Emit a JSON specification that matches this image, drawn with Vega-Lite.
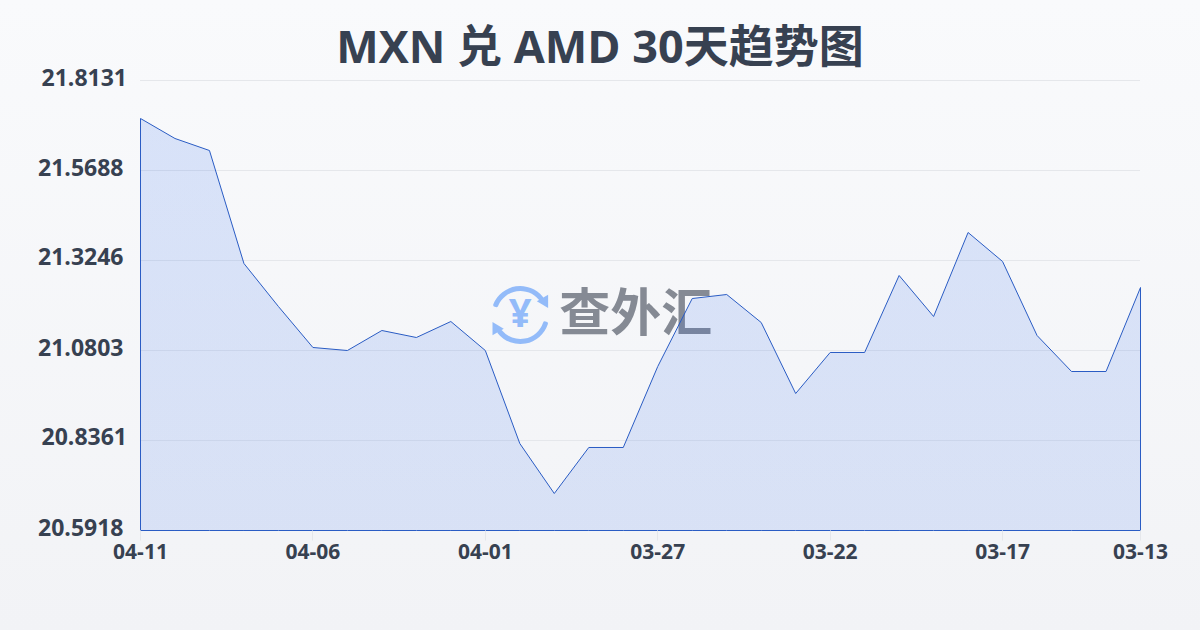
{
"$schema":"https://vega.github.io/schema/vega-lite/v6.json",
"width":1000,"height":450,
"autosize":{"type":"none"},
"padding":{"left":140,"top":80,"right":60,"bottom":100},
"background":"#f6f7f9",
"config":{"view":{"stroke":null}},
"data":{"values":[
{"date":"2025-04-11","rate":21.71},{"date":"2025-04-10","rate":21.6557},{"date":"2025-04-09","rate":21.6231},{"date":"2025-04-08","rate":21.3164},{"date":"2025-04-07","rate":21.1997},{"date":"2025-04-06","rate":21.0885},{"date":"2025-04-05","rate":21.0803},{"date":"2025-04-04","rate":21.1346},{"date":"2025-04-03","rate":21.1156},{"date":"2025-04-02","rate":21.159},{"date":"2025-04-01","rate":21.0803},{"date":"2025-03-31","rate":20.8279},{"date":"2025-03-30","rate":20.6922},{"date":"2025-03-29","rate":20.8171},{"date":"2025-03-28","rate":20.8171},{"date":"2025-03-27","rate":21.0369},{"date":"2025-03-26","rate":21.2214},{"date":"2025-03-25","rate":21.2323},{"date":"2025-03-24","rate":21.1563},{"date":"2025-03-23","rate":20.9636},{"date":"2025-03-22","rate":21.0749},{"date":"2025-03-21","rate":21.0749},{"date":"2025-03-20","rate":21.2839},{"date":"2025-03-19","rate":21.1726},{"date":"2025-03-18","rate":21.4006},{"date":"2025-03-17","rate":21.3219},{"date":"2025-03-16","rate":21.121},{"date":"2025-03-15","rate":21.0233},{"date":"2025-03-14","rate":21.0233},{"date":"2025-03-13","rate":21.2513}
]},
"encoding":{
"x":{"field":"date","type":"temporal","title":null,"scale":{"type":"utc","reverse":true,"nice":false,"domain":[{"year":2025,"month":3,"date":13,"utc":true},{"year":2025,"month":4,"date":11,"utc":true}]},
"axis":{"values":[{"year":2025,"month":4,"date":11,"utc":true},{"year":2025,"month":4,"date":6,"utc":true},{"year":2025,"month":4,"date":1,"utc":true},{"year":2025,"month":3,"date":27,"utc":true},{"year":2025,"month":3,"date":22,"utc":true},{"year":2025,"month":3,"date":17,"utc":true},{"year":2025,"month":3,"date":13,"utc":true}],"labelExpr":"utcFormat(datum.value,'%m-%d')","labelAngle":0,"labelOverlap":false,"labelFlush":false,"labelFont":"Open Sans","labelFontSize":21,"labelFontWeight":700,"labelColor":"#374151","labelPadding":1,"labelBaseline":"top","tickColor":"#e5e7eb","tickSize":10,"tickWidth":1,"domain":false,"grid":false,"zindex":1}},
"y":{"field":"rate","type":"quantitative","title":null,"scale":{"domain":[20.5918,21.8131],"nice":false,"zero":false},
"axis":{"values":[20.5918,20.8361,21.0803,21.3246,21.5688,21.8131],"format":".4f","labelFont":"Open Sans","labelFontSize":23,"labelFontWeight":700,"labelColor":"#374151","labelPadding":{"condition":{"test":"datum.value===21.8131||datum.value===20.8361","value":13.5},"value":17},"labelOffset":-2,"ticks":false,"domain":false,"grid":false,"zindex":1}}
},
"layer":[
{"data":{"values":[{"start":"2025-04-11","end":"2025-03-13","top":22.0302,"bottom":20.3204}]},
 "mark":{"type":"rect","xOffset":-140,"x2Offset":60,"clip":false,"fill":{"gradient":"linear","x1":0,"y1":0,"x2":0,"y2":1,"stops":[{"offset":0,"color":"#f9fafc"},{"offset":1,"color":"#f2f3f6"}]}},
 "encoding":{"x":{"field":"start","type":"temporal"},"x2":{"field":"end"},"y":{"field":"top","type":"quantitative"},"y2":{"field":"bottom"}}},
{"data":{"values":[{"start":"2025-04-11","end":"2025-03-13","rate":20.8361},{"start":"2025-04-11","end":"2025-03-13","rate":21.0803},{"start":"2025-04-11","end":"2025-03-13","rate":21.3246},{"start":"2025-04-11","end":"2025-03-13","rate":21.5688},{"start":"2025-04-11","end":"2025-03-13","rate":21.8131}]},
 "mark":{"type":"rule","color":"#e5e7eb","strokeWidth":1,"yOffset":0.5},
 "encoding":{"x":{"field":"start","type":"temporal"},"x2":{"field":"end"},"y":{"field":"rate","type":"quantitative"}}},
{"data":{"values":[{"name":"MXN 兑 AMD 30天趋势图","date":"2025-03-29","rate":21.8592}]},
 "mark":{"type":"text","font":"Open Sans, Noto Sans CJK SC","fontWeight":"bold","fontSize":45,"color":"#374151","align":"center","baseline":"alphabetic","xOffset":11.7},
 "encoding":{"text":{"field":"name"}}},
{"data":{"values":[{"name":"查外汇","date":"2025-03-29","rate":21.1753}]},
 "mark":{"type":"text","font":"Noto Sans CJK SC","fontWeight":"bold","fontSize":51,"color":"#858a94","align":"left","baseline":"middle","xOffset":-29,"yOffset":1},
 "encoding":{"text":{"field":"name"}}},
{"data":{"values":[{"name":"¥","date":"2025-03-31","rate":21.1753}]},
 "mark":{"type":"text","font":"Open Sans","fontWeight":"bold","fontSize":40,"color":"#93bbf9","align":"center","baseline":"middle","xOffset":1},
 "encoding":{"text":{"field":"name"}}},
{"data":{"values":[{"date":"2025-03-31","rate":21.1753}]},
 "mark":{"type":"arc","color":"#93bbf9","innerRadius":24,"outerRadius":29,"theta":-1.26,"theta2":0.96,"cornerRadius":2,"xOffset":1}},
{"data":{"values":[{"date":"2025-03-31","rate":21.1753}]},
 "mark":{"type":"arc","color":"#93bbf9","innerRadius":24,"outerRadius":29,"theta":1.82,"theta2":4.1,"cornerRadius":2,"xOffset":1}},
{"data":{"values":[{"date":"2025-03-31","rate":21.1753}]},
 "mark":{"type":"point","filled":true,"shape":"triangle-up","size":170,"opacity":1,"color":"#93bbf9","angle":150,"xOffset":26,"yOffset":-12}},
{"data":{"values":[{"date":"2025-03-31","rate":21.1753}]},
 "mark":{"type":"point","filled":true,"shape":"triangle-up","size":170,"opacity":1,"color":"#93bbf9","angle":330,"xOffset":-24,"yOffset":12}},
{"mark":{"type":"area","stroke":"#2a5cc4","strokeWidth":1,"xOffset":0.5,"yOffset":0.5,"y2Offset":0.5,"fill":{"gradient":"linear","x1":0,"y1":0,"x2":0,"y2":1,"stops":[{"offset":0,"color":"rgba(37,99,235,0.15)"},{"offset":1,"color":"rgba(37,99,235,0.13)"}]}},
 "encoding":{"y":{"field":"rate","type":"quantitative","stack":null},"y2":{"datum":20.5918}}}
]
}
